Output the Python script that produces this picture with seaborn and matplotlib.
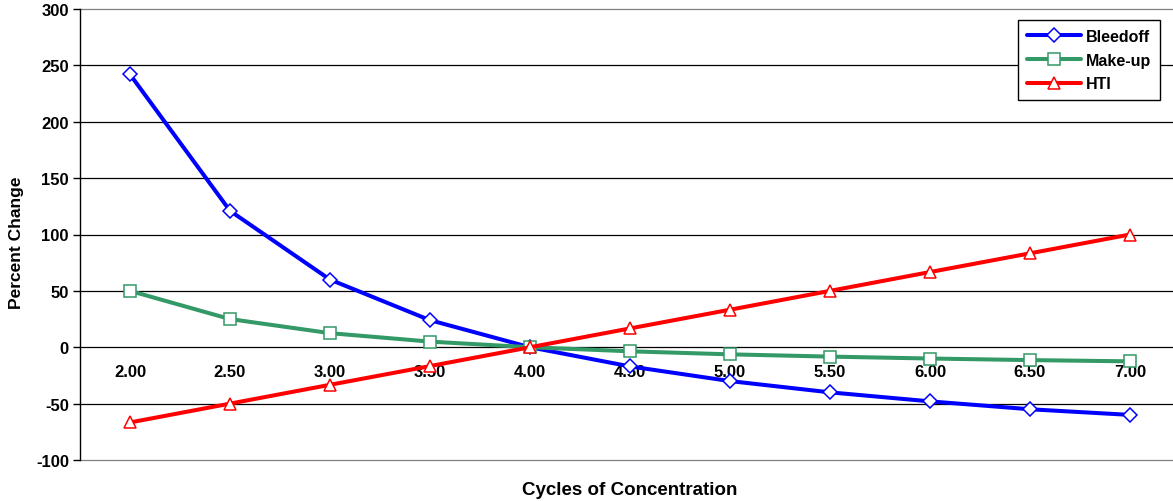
import seaborn as sns
import matplotlib.pyplot as plt
import matplotlib.transforms as mtrans
import pandas as pd

# values
cycles = [2.0, 2.5, 3.0, 3.5, 4.0, 4.5, 5.0, 5.5, 6.0, 6.5, 7.0]
bleedoff = [242, 121, 60, 24, 0, -17, -30, -40, -48, -55, -60]
makeup = [50, 25, 12.5, 5, 0, -3.6, -6.3, -8.3, -10, -11.4, -12.5]
hti = [-66.7, -50, -33.3, -16.7, 0, 16.7, 33.3, 50, 66.7, 83.3, 100]

df = pd.DataFrame({"cycles": cycles, "Bleedoff": bleedoff,
                   "Make-up": makeup, "HTI": hti})

sns.set_style("white")
plt.rcParams['font.family'] = ['Liberation Sans', 'DejaVu Sans']
plt.rcParams['font.weight'] = 'bold'
plt.rcParams['text.color'] = 'black'
plt.rcParams['xtick.color'] = 'black'
plt.rcParams['ytick.color'] = 'black'
plt.rcParams['axes.unicode_minus'] = False

fig = plt.figure(figsize=(11.73, 5.02), dpi=100)
ax = fig.add_axes([80 / 1173, 1 - 461 / 502, 1100 / 1173, 451 / 502])

series = [("Bleedoff", "#0000FF", "D", 7),
          ("Make-up", "#339966", "s", 8.5),
          ("HTI", "#FF0000", "^", 9)]
for name, color, marker, ms in series:
    sns.lineplot(data=df, x="cycles", y=name, ax=ax, color=color, lw=2.9,
                 marker=marker, markersize=ms, markerfacecolor="white",
                 markeredgecolor=color, markeredgewidth=1.1, label=name)

ax.set_xlim(1.75, 7.25)
ax.set_ylim(-100, 300)
ax.set_yticks(range(-100, 301, 50))
ax.set_xticks(cycles)
ax.set_xticklabels([f"{c:.2f}" for c in cycles])
ax.yaxis.grid(True, color="black", lw=0.9)
ax.xaxis.grid(False)
for gl in ax.get_ygridlines():
    gl.set_clip_on(False)
ax.get_ygridlines()[0].set_color("#808080")
ax.get_ygridlines()[-1].set_color("#808080")

for s in ["top", "right", "bottom"]:
    ax.spines[s].set_visible(False)
ax.spines["left"].set_color("black")
ax.spines["left"].set_linewidth(1.0)

ax.tick_params(axis="x", length=0, pad=17, labelsize=12)
ax.tick_params(axis="y", length=5, width=1, color="black", direction="out",
               left=True, labelsize=12, pad=3)
for lab in ax.get_xticklabels() + ax.get_yticklabels():
    lab.set_fontweight("bold")

# x tick labels sit just under the zero line
for lab in ax.get_xticklabels():
    lab.set_transform(mtrans.blended_transform_factory(ax.transData, ax.transData)
                      + mtrans.ScaledTranslation(0, -0.17, fig.dpi_scale_trans))
    lab.set_y(0)

ax.set_xlabel("")
ax.set_ylabel("")
fig.text(630 / 1173, 1 - 491 / 502, "Cycles of Concentration", ha="center",
         va="center", fontsize=13.5, fontweight="bold")
fig.text(17 / 1173, 1 - 243 / 502, "Percent Change", ha="center",
         va="center", rotation=90, fontsize=12.5, fontweight="bold")

leg = ax.legend(loc="upper left", bbox_to_anchor=(1018 / 1173, 1 - 21 / 502),
                bbox_transform=fig.transFigure, fancybox=False,
                edgecolor="black", framealpha=1, handlelength=3.4,
                prop={"weight": "bold", "size": 11.5}, borderpad=0.55,
                labelspacing=0.55, handletextpad=0.3, borderaxespad=0)
leg.get_frame().set_linewidth(1.0)

fig.savefig("out.png", dpi=100)
